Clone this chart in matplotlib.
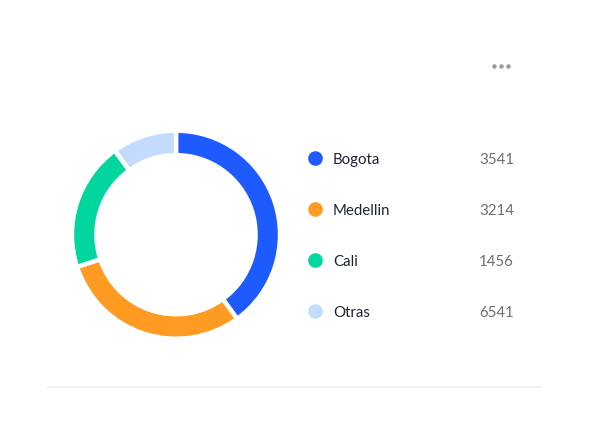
import matplotlib
matplotlib.use("Agg")
import matplotlib.pyplot as plt
from matplotlib.lines import Line2D

categories = ["Bogota", "Medellin", "Cali", "Otras"]
legend_values = [3541, 3214, 1456, 6541]
ring_shares = [40, 30, 20, 10]
colors = ["#1E5BFF", "#FF9A23", "#00D69E", "#C3DCFD"]

W, H = 601, 440
fig = plt.figure(figsize=(W / 100, H / 100), dpi=100)
fig.patch.set_facecolor("white")

cx, cy, R = 176, 440 - 234.7, 102
ax = fig.add_axes([(cx - R) / W, (cy - R) / H, 2 * R / W, 2 * R / H])
ax.pie(ring_shares, colors=colors, startangle=90, counterclock=False,
       radius=1.02, wedgeprops=dict(width=0.24, edgecolor="white", linewidth=3.2))
ax.set_xlim(-1, 1)
ax.set_ylim(-1, 1)
ax.set_aspect("equal")
ax.axis("off")

# legend
ys = [158.3, 209.3, 260.3, 311.3]
for cat, val, col, y in zip(categories, legend_values, colors, ys):
    fy = 1 - y / H
    ty = 1 - (y + 1.5) / H
    fig.add_artist(Line2D([315 / W], [fy], marker="o", markersize=10.5,
                          color=col, markeredgewidth=0, transform=fig.transFigure))
    fig.text(333 / W, ty, cat, fontsize=10.8, family="Lato", color="#1E2433",
             va="center", ha="left")
    fig.text(514 / W, ty, str(val), fontsize=10.8, family="Lato", color="#6B6E75",
             va="center", ha="right")

# menu dots
for x in [494, 501, 508]:
    fig.add_artist(Line2D([x / W], [1 - 66 / H], marker="o", markersize=3.2,
                          color="#9A9A9A", markeredgewidth=0, transform=fig.transFigure))

# separator line
fig.add_artist(Line2D([48 / W, 541 / W], [1 - 387 / H, 1 - 387 / H],
                      color="#EDF0F4", linewidth=1.3, transform=fig.transFigure))

fig.savefig("out.png", dpi=100, facecolor="white")
